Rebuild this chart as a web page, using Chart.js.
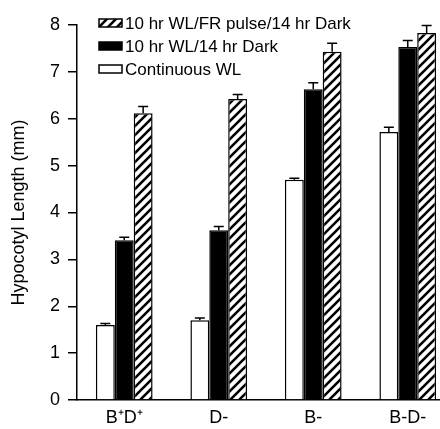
<!DOCTYPE html>
<html>
<head>
<meta charset="utf-8">
<script src="https://cdn.jsdelivr.net/npm/chart.js@4.4.0/dist/chart.umd.min.js"></script>
<style>
  html, body { margin: 0; padding: 0; background: #fff; }
  #wrap { width: 440px; height: 429px; overflow: hidden; }
</style>
</head>
<body>
<div id="wrap"><canvas id="hypocotylChart" width="455" height="429"></canvas></div>
<script>
const categories = ['B\u207AD\u207A', 'D-', 'B-', 'B-D-'];
const seriesLabels = ['Continuous WL', '10 hr WL/14 hr Dark', '10 hr WL/FR pulse/14 hr Dark'];
const continuousWL = [1.6, 1.7, 4.7, 5.72];
const continuousErr = [0.03, 0.05, 0.03, 0.1];
const darkWL = [3.41, 3.62, 6.63, 7.53];
const darkErr = [0.06, 0.08, 0.14, 0.14];
const frPulse = [6.12, 6.42, 7.43, 7.83];
const frPulseErr = [0.14, 0.1, 0.18, 0.16];
const yTicks = [0, 1, 2, 3, 4, 5, 6, 7, 8];

function makeHatch() {
  const n = 9;
  const c = document.createElement('canvas');
  c.width = n; c.height = n;
  const g = c.getContext('2d');
  g.fillStyle = '#fff';
  g.fillRect(0, 0, n, n);
  g.strokeStyle = '#000';
  g.lineWidth = 2.6;
  g.beginPath();
  [-n, 0, n].forEach(o => {
    g.moveTo(o - 1, n + 1);
    g.lineTo(o + n + 1, -1);
  });
  g.stroke();
  return g.createPattern(c, 'repeat');
}

const hatch = makeHatch();

// error bars above each bar
const errorBars = {
  id: 'errorBars',
  afterDatasetsDraw(chart) {
    const ctx = chart.ctx;
    const y = chart.scales.y;
    ctx.save();
    ctx.strokeStyle = '#000';
    ctx.lineWidth = 1.5;
    chart.data.datasets.forEach((ds, i) => {
      chart.getDatasetMeta(i).data.forEach((bar, j) => {
        const top = y.getPixelForValue(ds.data[j] + ds.errors[j]);
        ctx.beginPath();
        ctx.moveTo(bar.x, bar.y);
        ctx.lineTo(bar.x, top);
        ctx.moveTo(bar.x - 5, top);
        ctx.lineTo(bar.x + 5, top);
        ctx.stroke();
      });
    });
    ctx.restore();
  }
};

// legend inside the plot, top left, reversed order
const boxLegend = {
  id: 'boxLegend',
  afterDraw(chart) {
    const ctx = chart.ctx;
    const x0 = chart.chartArea.left + 22;
    const y0 = 23;
    ctx.save();
    ctx.font = '17px "Liberation Sans", Arial, sans-serif';
    ctx.textBaseline = 'middle';
    const ds = chart.data.datasets.slice().reverse();
    ds.forEach((d, i) => {
      const cy = y0 + i * 23;
      ctx.fillStyle = d.backgroundColor;
      ctx.fillRect(x0, cy - 4, 23, 8);
      ctx.strokeStyle = '#000';
      ctx.lineWidth = 1.5;
      ctx.strokeRect(x0, cy - 4, 23, 8);
      ctx.fillStyle = '#000';
      ctx.fillText(d.label, x0 + 26, cy + 1);
    });
    ctx.restore();
  }
};

Chart.defaults.font.family = '"Liberation Sans", Arial, Helvetica, sans-serif';
Chart.defaults.color = '#000';

new Chart(document.getElementById('hypocotylChart'), {
  type: 'bar',
  data: {
    labels: categories,
    datasets: [
      { label: seriesLabels[0], data: continuousWL, errors: continuousErr, backgroundColor: '#fff' },
      { label: seriesLabels[1], data: darkWL, errors: darkErr, backgroundColor: '#000' },
      { label: seriesLabels[2], data: frPulse, errors: frPulseErr, backgroundColor: hatch }
    ]
  },
  options: {
    responsive: false,
    animation: false,
    layout: { padding: { top: 25, left: 8, right: 0, bottom: 0 } },
    datasets: {
      bar: {
        borderColor: '#000',
        borderWidth: 1.5,
        categoryPercentage: 0.6,
        barPercentage: 1
      }
    },
    plugins: {
      legend: { display: false },
      tooltip: { enabled: false }
    },
    scales: {
      x: {
        grid: { display: false, drawTicks: false },
        border: { color: '#000', width: 1.5 },
        ticks: { color: '#000', font: { size: 18 }, padding: 7 },
        afterFit(s) { s.height = 29; }
      },
      y: {
        min: 0,
        max: 8,
        afterBuildTicks(s) { s.ticks = yTicks.map(v => ({ value: v })); },
        ticks: { color: '#000', font: { size: 18 }, padding: 8 },
        grid: { drawOnChartArea: false, tickLength: 9, color: '#000', lineWidth: 1.5 },
        border: { color: '#000', width: 1.5 },
        title: { display: true, text: 'Hypocotyl Length (mm)', color: '#000', font: { size: 18 }, padding: 0 },
        afterFit(s) { s.width = 69; }
      }
    }
  },
  plugins: [errorBars, boxLegend]
});
</script>
</body>
</html>
